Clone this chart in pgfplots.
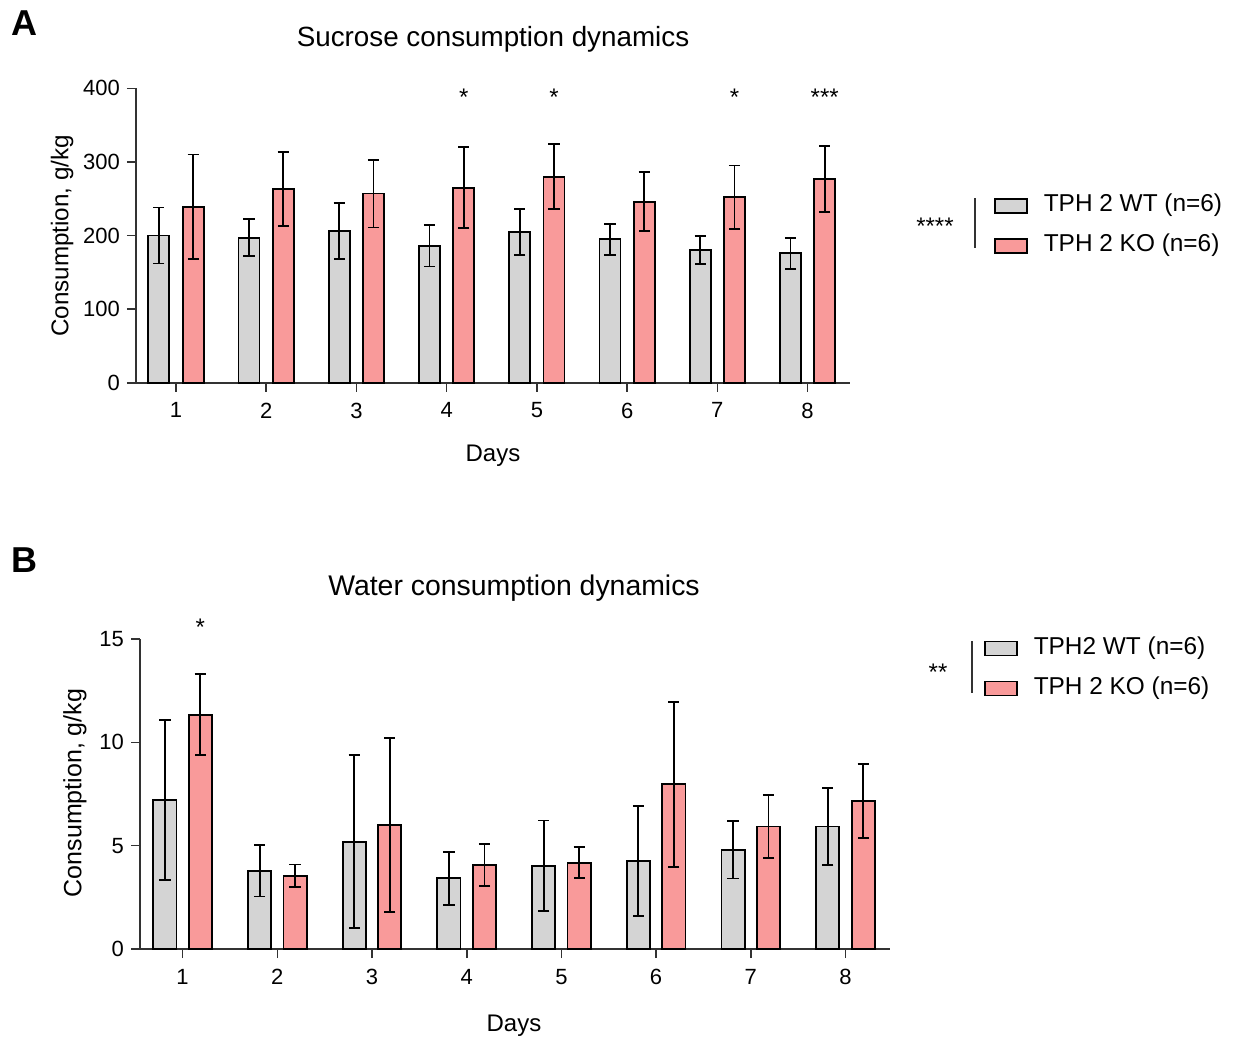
\documentclass[border=0pt]{standalone}
\usepackage{pgfplots}
\pgfplotsset{compat=1.18}
\usepackage{fontspec}
\setmainfont{Liberation Sans}
\definecolor{wtgray}{RGB}{212,212,212}
\definecolor{kopink}{RGB}{249,154,154}
\definecolor{axgray}{RGB}{50,50,50}

% mean, sd for each day
\pgfplotstableread{
day wt wterr ko koerr
1 200 38 239 71
2 197 25 263 50
3 206 38 257 46
4 186 28 265 55
5 205 31 280 44
6 195 21 246 40
7 180 19 252 43
8 176 21 277 45
}\sucrose
\pgfplotstableread{
day wt wterr ko koerr
1 7.21 3.88 11.34 1.96
2 3.79 1.25 3.55 0.54
3 5.19 4.18 6.01 4.20
4 3.42 1.29 4.06 1.02
5 4.03 2.19 4.18 0.76
6 4.26 2.65 7.97 4.00
7 4.81 1.40 5.93 1.54
8 5.93 1.85 7.16 1.78
}\water

\pgfplotsset{
  panel/.style={
    scale only axis,
    axis lines=left,
    axis line style={-,axgray,line width=0.8pt},
    tick style={axgray,line width=0.8pt},
    tick align=outside,
    major tick length=4.5pt,
    ybar,
    xtick={1,...,8},
    ymin=0,
    tick label style={font=\fontsize{11}{13}\selectfont},
    xticklabel style={yshift=-2pt},
    /pgf/number format/assume math mode=true,
    clip=false,
    legend cell align=left,
    legend image code/.code={\draw[##1,line width=0.7pt] (0pt,-3.5pt) rectangle (16pt,3.5pt);},
    legend style={draw=none,fill=none,inner sep=0pt,anchor=west,
      font=\fontsize{12.2}{14}\selectfont,
      nodes={inner sep=0pt,text height=9pt,text depth=3pt},
      row sep=8pt,
      /tikz/every odd column/.append style={column sep=8pt}},
  },
  errs/.style={
    error bars/y dir=both,
    error bars/y explicit,
    error bars/error bar style={black,line width=0.9pt},
    error bars/error mark options={black,line width=0.9pt,mark size=2.8pt,rotate=90}},
  wtbar/.style={fill=wtgray,draw=black,line width=0.9pt,errs},
  kobar/.style={fill=kopink,draw=black,line width=0.9pt,errs},
}

\begin{document}
\begin{tikzpicture}
\useasboundingbox (0,0) rectangle (619pt,-519.5pt);

% panel A
\node[font=\bfseries\fontsize{18}{20}\selectfont] at (12.2pt,-11.8pt) {A};
\node[font=\fontsize{13.9}{16}\selectfont] at (246.5pt,-19.5pt) {Sucrose consumption dynamics};
\node[font=\fontsize{12}{14}\selectfont] at (246.5pt,-228pt) {Days};
\node[font=\fontsize{12.1}{14}\selectfont,rotate=90] at (31pt,-118pt) {Consumption, g/kg};

\begin{axis}[panel,
  at={(68pt,-191.35pt)},anchor=south west,
  width=357pt,height=147.2pt,
  xmin=0.557,xmax=8.47,ymax=400,
  ytick={0,100,200,300,400},
  bar width=0.233,
  legend style={at={(axis description cs:1.2017,0.5323)}},
  ]
\addplot[wtbar,bar shift=-0.19] table[x=day,y=wt,y error=wterr]{\sucrose};
\addlegendentry{TPH 2 WT (n=6)}
\addplot[kobar,bar shift=0.19] table[x=day,y=ko,y error=koerr]{\sucrose};
\addlegendentry{TPH 2 KO (n=6)}
\node[font=\fontsize{12}{14}\selectfont] at (axis cs:4.19,388) {*};
\node[font=\fontsize{12}{14}\selectfont] at (axis cs:5.19,388) {*};
\node[font=\fontsize{12}{14}\selectfont] at (axis cs:7.19,388) {*};
\node[font=\fontsize{12}{14}\selectfont] at (axis cs:8.19,388) {***};
\end{axis}
\node[font=\fontsize{12}{14}\selectfont] at (467.5pt,-113pt) {****};
\draw[axgray,line width=0.6pt] (487.5pt,-99pt) -- (487.5pt,-124pt);

% panel B
\node[font=\bfseries\fontsize{18}{20}\selectfont] at (12pt,-280.2pt) {B};
\node[font=\fontsize{14.2}{16}\selectfont] at (257pt,-294pt) {Water consumption dynamics};
\node[font=\fontsize{12}{14}\selectfont] at (257pt,-513pt) {Days};
\node[font=\fontsize{12.5}{14}\selectfont,rotate=90] at (37.5pt,-396.5pt) {Consumption, g/kg};

\begin{axis}[panel,
  at={(70pt,-474.5pt)},anchor=south west,
  width=375pt,height=155pt,
  xmin=0.55,xmax=8.47,ymax=15,
  ytick={0,5,10,15},
  bar width=0.245,
  legend style={at={(axis description cs:1.1253,0.9048)}},
  ]
\addplot[wtbar,bar shift=-0.187] table[x=day,y=wt,y error=wterr]{\water};
\addlegendentry{TPH2 WT (n=6)}
\addplot[kobar,bar shift=0.187] table[x=day,y=ko,y error=koerr]{\water};
\addlegendentry{TPH 2 KO (n=6)}
\node[font=\fontsize{12}{14}\selectfont] at (axis cs:1.187,15.55) {*};
\end{axis}
\node[font=\fontsize{12}{14}\selectfont] at (469pt,-336pt) {**};
\draw[axgray,line width=0.8pt] (486pt,-320.5pt) -- (486pt,-346.5pt);
\end{tikzpicture}
\end{document}
